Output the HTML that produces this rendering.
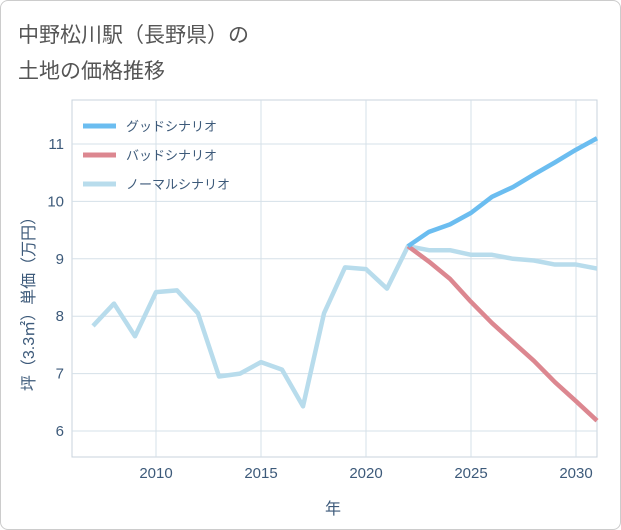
<!DOCTYPE html>
<html><head><meta charset="utf-8"><style>
body{margin:0;background:#fff;font-family:"Liberation Sans","Noto Sans CJK JP",sans-serif}
#card{position:absolute;left:0;top:0;width:619px;height:528px;border:1px solid #ccc;border-radius:8px;background:#fff}
</style></head><body>
<div id="card">
<svg id="chart" width="621" height="530" style="position:absolute;left:-1px;top:-1px">
<text x="18" y="42" font-size="21" fill="#555">中野松川駅（長野県）の</text>
<text x="18" y="78" font-size="21" fill="#555">土地の価格推移</text>
<g id="grid"></g><g id="series"></g><g id="legend"></g>
<text x="333" y="514" font-size="16" fill="#3d5a7a" text-anchor="middle">年</text>
<text transform="translate(34,300) rotate(-90)" font-size="16" fill="#3d5a7a" text-anchor="middle">坪（3.3㎡）単価（万円）</text>
</svg></div>
<script>
const years=[2007,2008,2009,2010,2011,2012,2013,2014,2015,2016,2017,2018,2019,2020,2021,2022,2023,2024,2025,2026,2027,2028,2029,2030,2031];
const normalValues=[7.83,8.22,7.65,8.42,8.45,8.05,6.95,7.0,7.2,7.07,6.43,8.05,8.85,8.82,8.48,9.22,9.15,9.15,9.07,9.07,9.0,8.97,8.9,8.9,8.83];
const futureYears=[2022,2023,2024,2025,2026,2027,2028,2029,2030,2031];
const goodValues=[9.22,9.47,9.6,9.8,10.08,10.25,10.47,10.68,10.9,11.1];
const badValues=[9.22,8.95,8.65,8.25,7.88,7.55,7.22,6.85,6.52,6.18];
const xTicks=[2010,2015,2020,2025,2030];
const yTicks=[6,7,8,9,10,11];
const NS='http://www.w3.org/2000/svg';
const L=72,R=597,T=100,B=457;
const xs=v=>L+(v-2006)*(R-L)/25;
const ys=v=>431-(v-6)*57.4;
function mk(t,a,p){const e=document.createElementNS(NS,t);for(const k in a)e.setAttribute(k,a[k]);p.appendChild(e);return e;}
const g=document.getElementById('grid');
const frame=mk('rect',{x:L,y:T,width:R-L,height:B-T,fill:'none',stroke:'#c8d3dc'},g);


xTicks.forEach(v=>{const l=mk('line',{x1:xs(v),x2:xs(v),y1:T,y2:B,stroke:'#d5e0e8'},g);


const t=mk('text',{x:xs(v),y:478,'font-size':15,fill:'#3d5a7a','text-anchor':'middle'},g);t.textContent=v;

});
yTicks.forEach(v=>{const l=mk('line',{x1:L,x2:R,y1:ys(v),y2:ys(v),stroke:'#d5e0e8'},g);


const t=mk('text',{x:64,y:ys(v)+5,'font-size':15,fill:'#3d5a7a','text-anchor':'end'},g);t.textContent=v;

});
const s=document.getElementById('series');
function line(xv,yv,c,name){const p=mk('polyline',{points:xv.map((x,i)=>xs(x)+','+ys(yv[i])).join(' '),fill:'none',stroke:c,'stroke-width':4.5,'stroke-linejoin':'round'},s);

}
line(years,normalValues,'#b8dcec','normal-scenario-line');
line(futureYears,badValues,'#dc8790','bad-scenario-line');
line(futureYears,goodValues,'#6bbdf0','good-scenario-line');
const lg=document.getElementById('legend');
[['グッドシナリオ','#6bbdf0','legend-good'],['バッドシナリオ','#dc8790','legend-bad'],['ノーマルシナリオ','#b8dcec','legend-normal']].forEach((d,i)=>{
const y=126+i*29;
const gr=mk('g',{},lg);


mk('line',{x1:83,x2:116,y1:y,y2:y,stroke:d[1],'stroke-width':5},gr);
const t=mk('text',{x:126,y:y+5,'font-size':13,fill:'#3d5a7a'},gr);t.textContent=d[0];});
</script>
</body></html>
